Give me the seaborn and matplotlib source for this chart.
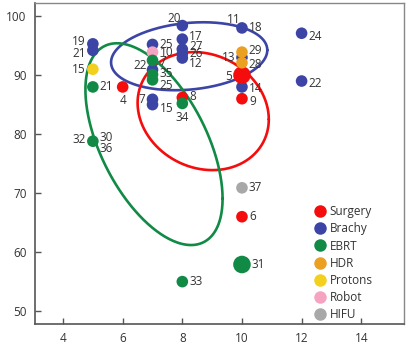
import numpy as np
import pandas as pd
import matplotlib
matplotlib.use("Agg")
import matplotlib.pyplot as plt
from matplotlib.lines import Line2D
import seaborn as sns

# ---------------- data ----------------
groups = ["Surgery", "Brachy", "EBRT", "HDR", "Protons", "Robot", "HIFU"]
colors = ["#f50d0d", "#3c45a6", "#108a45", "#eba022", "#f4d01e", "#f6a3c2", "#a8a8a8"]

brachy_x = [5, 5, 7, 7, 7, 7, 8, 8, 8, 8, 8, 10, 10, 10, 12, 12]
brachy_y = [95.3, 94.2, 95.2, 90.9, 85.9, 85.0, 98.4, 96.1, 94.4, 93.6, 92.9, 98.0, 93.0, 88.0, 97.1, 89.0]
brachy_lbl = ["19", "21", "25", "22", "7", "15", "20", "17", "27", "26", "12", "11|18", "13", "14", "24", "22"]

robot_x = [7]
robot_y = [93.9]
robot_lbl = ["10"]

surgery_x = [6, 10, 10, 8, 10]
surgery_y = [88.0, 90.0, 86.0, 86.2, 66.0]
surgery_lbl = ["4", "5", "9", "8", "6"]
surgery_big = [0, 1, 0, 0, 0]

hdr_x = [10, 10]
hdr_y = [93.9, 92.1]
hdr_lbl = ["29", "28"]

ebrt_x = [5, 5, 7, 7, 7, 8, 10, 8]
ebrt_y = [88.0, 78.8, 92.5, 90.1, 89.2, 85.2, 57.9, 55.0]
ebrt_lbl = ["21", "32|30|36", "7", "35", "25", "34", "31", "33"]
ebrt_big = [0, 0, 0, 0, 0, 0, 1, 0]

protons_x = [5]
protons_y = [91.0]
protons_lbl = ["15"]

hifu_x = [10]
hifu_y = [70.9]
hifu_lbl = ["37"]

# ellipses: centre, x-spread, y-spread, correlation
ell_groups = ["Brachy", "Surgery", "EBRT"]
ell_cx = [8.23, 8.70, 7.05]
ell_cy = [93.2, 83.9, 78.3]
ell_sx = [2.62, 2.20, 2.30]
ell_sy = [5.76, 10.0, 17.1]
ell_rho = [0.18, -0.14, -0.54]

# ---------------- table ----------------
rows = []
def add(g, xs, ys, lbls, big=None):
    for i, (x, y, l) in enumerate(zip(xs, ys, lbls)):
        rows.append(dict(group=g, x=x, y=y, label=l,
                         kind="big" if (big and big[i]) else "normal"))

add("Brachy", brachy_x, brachy_y, brachy_lbl)
add("Robot", robot_x, robot_y, robot_lbl)
add("Surgery", surgery_x, surgery_y, surgery_lbl, surgery_big)
add("HDR", hdr_x, hdr_y, hdr_lbl)
add("EBRT", ebrt_x, ebrt_y, ebrt_lbl, ebrt_big)
add("Protons", protons_x, protons_y, protons_lbl)
add("HIFU", hifu_x, hifu_y, hifu_lbl)
df = pd.DataFrame(rows)

# label placement (offset in points, alignment) - layout only; default is right of the dot
place = {
    ("Brachy", "19"): [(-5, 2, "right")],
    ("Brachy", "21"): [(-5, -2, "right")],
    ("Brachy", "22", 7): [(-4, 3, "right")],
    ("Brachy", "7"): [(-5, 0, "right")],
    ("Brachy", "15"): [(5, -3, "left")],
    ("Brachy", "20"): [(-1, 5, "right")],
    ("Brachy", "17"): [(5, 2, "left")],
    ("Brachy", "27"): [(5, 2, "left")],
    ("Brachy", "12"): [(5, -4, "left")],
    ("Brachy", "11|18"): [(-1, 6, "right"), (5, 0, "left")],
    ("Brachy", "13"): [(-5, 0, "right")],
    ("Brachy", "14"): [(5, -1, "left")],
    ("Brachy", "24"): [(5, -2, "left")],
    ("Brachy", "22", 12): [(5, -2, "left")],
    ("Surgery", "4"): [(0, -10, "center")],
    ("Surgery", "5"): [(-7, -1, "right")],
    ("Surgery", "9"): [(5, -2, "left")],
    ("Surgery", "8"): [(5, 1, "left")],
    ("HDR", "29"): [(5, 1, "left")],
    ("HDR", "28"): [(5, -1, "left")],
    ("EBRT", "32|30|36"): [(-5, 1, "right"), (5, 3, "left"), (5, -5, "left")],
    ("EBRT", "7"): [(5, -1, "left")],
    ("EBRT", "35"): [(5, 1, "left")],
    ("EBRT", "25"): [(5, -4, "left")],
    ("EBRT", "34"): [(0, -10, "center")],
    ("EBRT", "31"): [(7, 0, "left")],
    ("Protons", "15"): [(-5, 0, "right")],
}

# ---------------- figure ----------------
sns.set_theme(style="white")
plt.rcParams["font.family"] = ["Open Sans", "DejaVu Sans"]
fs = 8.5

fig = plt.figure(figsize=(4.12, 3.5), dpi=100)
ax = fig.add_axes([0.085, 0.074, 0.896, 0.917])

pal = dict(zip(groups, colors))

# ellipses
t = np.linspace(0, 2 * np.pi, 300)
for g, cx, cy, sx, sy, r in zip(ell_groups, ell_cx, ell_cy, ell_sx, ell_sy, ell_rho):
    ex = cx + sx * np.cos(t)
    ey = cy + sy * (r * np.cos(t) + np.sqrt(1 - r ** 2) * np.sin(t))
    ax.plot(ex, ey, color=pal[g], lw=1.9, zorder=1, solid_capstyle="round")

sns.scatterplot(data=df, x="x", y="y", hue="group", palette=pal,
                size="kind", sizes={"normal": 70, "big": 160},
                linewidth=0, legend=False, ax=ax, zorder=3)

for _, row in df.iterrows():
    parts = row.label.split("|")
    offs = place.get((row.group, row.label, int(row.x)),
                     place.get((row.group, row.label), [(5, 0, "left")]))
    for txt, (dx, dy, ha) in zip(parts, offs):
        ax.annotate(txt, (row.x, row.y), xytext=(dx, dy), textcoords="offset points",
                    ha=ha, va="center", fontsize=fs, color="#333333", zorder=4)

ax.set_xlim(3.06, 15.44)
ax.set_ylim(47.8, 102.2)
ax.set_xticks([4, 6, 8, 10, 12, 14])
ax.set_yticks([50, 60, 70, 80, 90, 100])
ax.set_xlabel("")
ax.set_ylabel("")
ax.tick_params(axis="both", direction="in", length=4, width=1, color="#555555",
               labelsize=fs, labelcolor="#333333", pad=6, left=True, bottom=True)
for s in ["left", "bottom"]:
    ax.spines[s].set_color("#555555")
    ax.spines[s].set_linewidth(1.2)
for s in ["top", "right"]:
    ax.spines[s].set_color("#888888")
    ax.spines[s].set_linewidth(1.0)

handles = [Line2D([0], [0], marker="o", linestyle="", markersize=9,
                  markerfacecolor=c, markeredgewidth=0) for c in colors]
ax.legend(handles, groups, loc="upper left", bbox_to_anchor=(0.74, 0.385),
          frameon=False, fontsize=fs, labelspacing=0.35, handletextpad=0.2,
          handlelength=1.2, borderaxespad=0, labelcolor="#333333")

fig.savefig("out.png", dpi=100)
